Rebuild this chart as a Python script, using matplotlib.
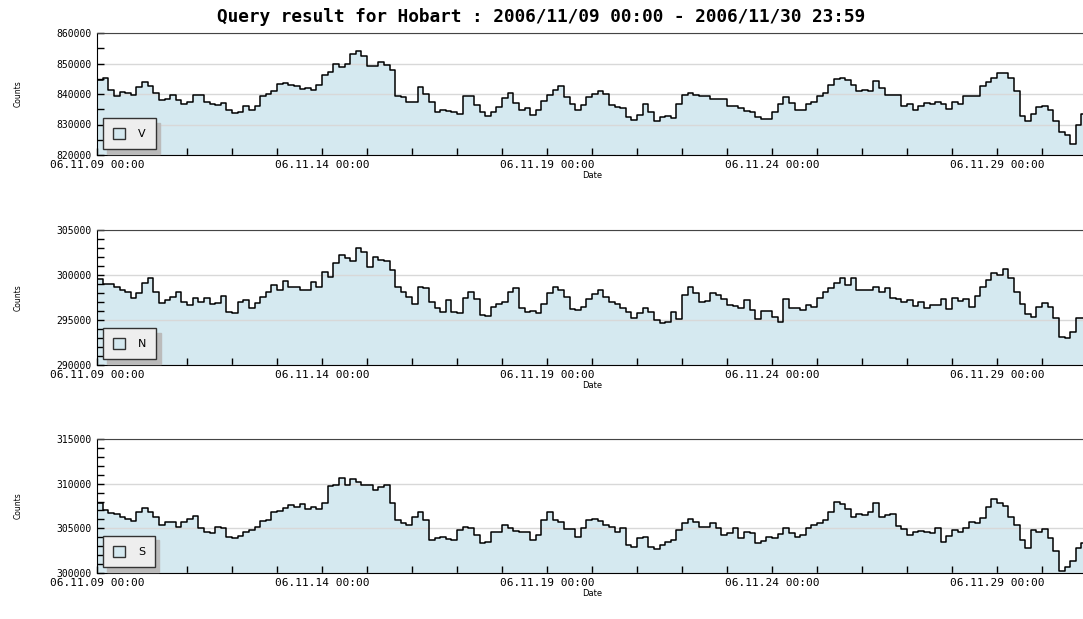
import numpy as np
import pandas as pd
import matplotlib
matplotlib.use('Agg')
from matplotlib import pyplot as plt
import matplotlib.dates as mdates
from matplotlib.ticker import MultipleLocator, FormatStrFormatter
from matplotlib.patches import Patch

# Hobart neutron monitor, 3-hourly counts, 2006/11/09 00:00 - 2006/11/30 23:59
start = '2006-11-09 00:00'
end = '2006-11-30 23:59'

counts_v = [
    844600, 845400, 841400, 839250, 840500, 840300, 839800, 842200, 843900, 842500,
    840300, 837900, 838500, 839600, 837900, 836800, 837400, 839600, 839600, 837400,
    836800, 836300, 837100, 834900, 833700, 834200, 836000, 834800, 836000, 839250,
    840000, 840900, 843200, 843600, 842800, 842500, 841700, 841900, 841400, 843000,
    846200, 847300, 850000, 848900, 849700, 853200, 854200, 852500, 849250, 849250,
    850500, 849500, 847800, 839250, 838900, 837400, 837400, 842200, 840000, 837300,
    834200, 834600, 834400, 834000, 833600, 839250, 839250, 836300, 834200, 832800,
    834200, 835700, 838700, 840300, 837100, 834900, 835500, 833100, 834600, 837600,
    839600, 841400, 842500, 838900, 836600, 834900, 836300, 838900, 840000, 841100,
    840000, 836300, 835900, 835500, 832300, 831400, 833100, 836600, 834200, 831000,
    832300, 832800, 832000, 836600, 839800, 840300, 839600, 839500, 839250, 838500,
    838500, 838500, 836000, 836100, 835500, 834400, 834200, 832500, 831700, 831800,
    834200, 836600, 838900, 837100, 834600, 834900, 836800, 837400, 839250, 840300,
    842800, 844900, 845100, 844600, 843000, 841100, 841400, 841100, 844300, 841900,
    839600, 839800, 839600, 836200, 836600, 834800, 836000, 837000, 836800, 837400,
    836800, 835100, 837400, 836800, 839250, 839250, 839250, 842500, 843900, 845400,
    846800, 846800, 845400, 840900, 832800, 831200, 833600, 835700, 836000, 834600,
    831200, 827700, 826500, 823500, 829900, 833600,
]

counts_n = [
    299550, 298960, 298960, 298700, 298330, 298150, 297480, 297960, 299070, 299630,
    298070, 296850, 297220, 297590, 298070, 297040, 296670, 297480, 297040, 297480,
    296740, 296850, 297700, 295930, 295740, 297040, 297220, 296370, 296850, 297590,
    298150, 298890, 298330, 299330, 298700, 298700, 298330, 298330, 299190, 298700,
    300370, 299810, 301300, 302220, 301850, 301560, 302960, 302590, 300930, 302040,
    301670, 301560, 300560, 298700, 298150, 297590, 296740, 298700, 298520, 297040,
    296370, 295930, 297220, 295850, 295740, 297410, 298070, 297330, 295560, 295480,
    296480, 296740, 297040, 298070, 298590, 296300, 295850, 295990, 295740, 296740,
    297960, 298700, 298330, 297590, 296220, 296110, 296480, 297330, 297850, 298330,
    297590, 297040, 296740, 296300, 295850, 295190, 295740, 296370, 295850, 295000,
    294630, 294810, 295850, 295110, 297780, 298700, 297960, 296960, 297110, 297960,
    297780, 297330, 296670, 296590, 296370, 297220, 296110, 295110, 296000, 296000,
    295370, 294810, 297330, 296370, 296370, 296110, 296670, 296480, 297480, 298150,
    298520, 299070, 299630, 298890, 299630, 298330, 298330, 298330, 298700, 298150,
    298520, 297480, 297330, 297040, 297220, 296590, 296960, 296370, 296670, 296670,
    297330, 296220, 297480, 297110, 297330, 296480, 297700, 298700, 299440, 300190,
    300000, 300670, 299700, 298070, 296740, 295630, 295370, 296480, 296850, 296480,
    295190, 293150, 292960, 293700, 295190, 295190,
]

counts_s = [
    307780, 307040, 306670, 306560, 306300, 306040, 305810, 306780, 307300, 306780,
    306300, 305370, 305740, 305740, 305190, 305740, 306040, 306410, 305000, 304630,
    304440, 305190, 305000, 304070, 303890, 304180, 304630, 304810, 305190, 305810,
    305930, 306780, 306930, 307300, 307590, 307410, 307670, 307220, 307410, 307220,
    307780, 309740, 309810, 310630, 309890, 310480, 310190, 309810, 309810, 309260,
    309630, 309890, 307780, 305930, 305560, 305370, 306300, 306850, 305930, 303700,
    303960, 304070, 303810, 303700, 304810, 305190, 305000, 304260, 303330, 303520,
    304630, 304630, 305370, 305070, 304700, 304560, 304560, 303700, 304260, 305930,
    306850, 305930, 305670, 304930, 304930, 304070, 305070, 305930, 306040, 305810,
    305370, 305190, 304630, 305000, 303150, 302960, 303960, 304070, 302960, 302700,
    303150, 303520, 303700, 304810, 305560, 306040, 305740, 305190, 305190, 305560,
    305000, 304260, 304440, 305000, 303960, 304630, 304440, 303330, 303590, 304070,
    303960, 304330, 305000, 304440, 304070, 304260, 305000, 305370, 305560, 305930,
    306850, 307960, 307670, 307150, 306300, 306560, 306480, 306850, 307780, 306300,
    306480, 306560, 305300, 304930, 304260, 304560, 304700, 304630, 304440, 305000,
    303440, 304180, 304810, 304630, 305000, 305740, 305560, 306190, 307410, 308330,
    307890, 307520, 306300, 305370, 303700, 302850, 304810, 304560, 304930, 303960,
    302410, 300260, 300630, 301300, 302780, 303330,
]

names = ['V', 'N', 'S']
series = [counts_v, counts_n, counts_s]
ylims = [(820000, 860000), (290000, 305000), (300000, 315000)]
ysteps = [(10000, 5000), (5000, 1000), (5000, 1000)]

times = pd.date_range(start, periods=len(counts_v), freq='3h')
# one extra edge so the last step reaches the end of the period
edges = list(times) + [pd.Timestamp(end)]

fill_col = '#d5e9f0'
W, H = 1083, 619
fig = plt.figure(figsize=(W / 100, H / 100), dpi=100)

# panel boxes in pixels: (top, bottom)
boxes = [(33, 155), (230, 365), (439, 573)]
left_px, right_px = 97, 1087

for i in range(3):
    top, bot = boxes[i]
    ax = fig.add_axes([left_px / W, 1 - bot / H, (right_px - left_px) / W, (bot - top) / H])
    vals = series[i] + [series[i][-1]]
    lo, hi = ylims[i]
    # fill under the grid, grid and ticks under the line
    ax.fill_between(edges, vals, lo, step='post', color=fill_col, lw=0, zorder=0.2)
    ax.plot(edges, vals, drawstyle='steps-post', color='black', lw=1.1, zorder=3)
    ax.set_ylim(lo, hi)
    ax.set_xlim(pd.Timestamp(start), pd.Timestamp(end))

    ax.yaxis.set_major_locator(MultipleLocator(ysteps[i][0]))
    ax.yaxis.set_minor_locator(MultipleLocator(ysteps[i][1]))
    ax.yaxis.set_major_formatter(FormatStrFormatter('%d'))
    ax.grid(axis='y', which='major', color='#d8d8d8', lw=1)
    ax.set_axisbelow(True)

    ax.xaxis.set_major_locator(mdates.DayLocator(bymonthday=[9, 14, 19, 24, 29]))
    ax.xaxis.set_minor_locator(mdates.DayLocator())
    ax.xaxis.set_major_formatter(mdates.DateFormatter('%y.%m.%d %H:%M'))

    ax.tick_params(axis='both', which='both', direction='in', length=5, width=1,
                   top=False, right=False)
    ax.tick_params(axis='y', labelsize=7, pad=4)
    ax.tick_params(axis='x', labelsize=8, pad=3.5)
    for lab in ax.get_xticklabels():
        lab.set_family('DejaVu Sans Mono')
    for lab in ax.get_yticklabels():
        lab.set_family('DejaVu Sans Mono')

    ax.spines['top'].set_color('#444444')
    ax.spines['right'].set_visible(False)
    ax.set_ylabel('Counts', fontsize=5.5, labelpad=24)
    ax.set_xlabel('Date', fontsize=6, labelpad=1)

    leg = ax.legend(handles=[Patch(facecolor=fill_col, edgecolor='#333333', lw=1)],
                    labels=[names[i]], loc='lower left', fontsize=8,
                    fancybox=False, shadow={'ox': 3, 'oy': -3, 'color': '#bbbbbb', 'alpha': 1},
                    framealpha=1, facecolor='#eeeeee', edgecolor='#333333',
                    handlelength=1.1, handleheight=1.1, handletextpad=1.2,
                    borderpad=0.9, borderaxespad=0.5)
    leg.get_frame().set_linewidth(1)

fig.text(0.5, 1 - 17 / H, 'Query result for Hobart : 2006/11/09 00:00 - 2006/11/30 23:59',
         ha='center', va='center', fontsize=12.8, family='DejaVu Sans Mono', weight='bold')

fig.savefig('out.png', dpi=100)
